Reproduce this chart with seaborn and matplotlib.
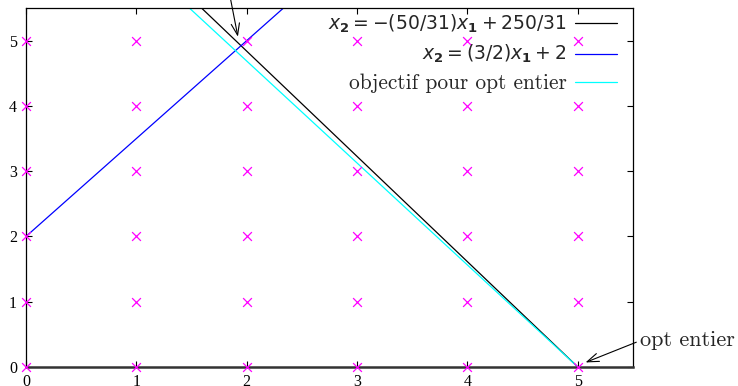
import numpy as np
import pandas as pd
import matplotlib
matplotlib.use("Agg")
import matplotlib.pyplot as plt
import seaborn as sns

# ---- data ----
grid_x1 = [0, 1, 2, 3, 4, 5]
grid_x2 = [0, 1, 2, 3, 4, 5]

line_labels = [r"$x_\mathbf{2} = -(50/31)x_\mathbf{1} + 250/31$",
               r"$x_\mathbf{2} = (3/2)x_\mathbf{1} + 2$",
               "objectif pour opt entier"]
line_slopes = [-50 / 31, 3 / 2, -50 / 32]
line_intercepts = [250 / 31, 2, 250 / 32]
line_x_ends = [[0, 5.5], [0, 5.5], [0, 5]]
line_colors = ["black", "blue", "cyan"]

x_ticks = [0, 1, 2, 3, 4, 5]
y_ticks = [0, 1, 2, 3, 4, 5]

opt_continu = (1.92, 5.06)
opt_entier = (5, 0)

# ---- style ----
sns.set_theme(style="ticks")
plt.rcParams["mathtext.fontset"] = "dejavusans"
plt.rcParams["font.family"] = ["DejaVu Sans"]

W, H = 738, 386
fig = plt.figure(figsize=(W / 100, H / 100), dpi=100)
ax = fig.add_axes([26 / W, 19 / H, 607 / W, 359 / H])

pts = pd.DataFrame([(a, b) for a in grid_x1 for b in grid_x2], columns=["x1", "x2"])
sns.scatterplot(data=pts, x="x1", y="x2", marker="x", color="#ff00ff", s=40,
                linewidth=0.9, ax=ax, legend=False, zorder=3, clip_on=False)

for lab, m, c, xe, col in zip(line_labels, line_slopes, line_intercepts, line_x_ends, line_colors):
    d = pd.DataFrame({"x1": xe, "x2": [m * v + c for v in xe]})
    sns.lineplot(data=d, x="x1", y="x2", color=col, linewidth=0.9, label=lab, ax=ax, zorder=2)

ax.set_xlim(0, 5.5)
ax.set_ylim(0, 5.5)
ax.set_xticks(x_ticks)
ax.set_yticks(y_ticks)
ax.set_xlabel("")
ax.set_ylabel("")
ax.tick_params(direction="in", top=True, right=True, length=4, width=0.8,
               colors="black", labelsize=11.5)
ax.tick_params(axis="y", pad=6.5)
ax.tick_params(axis="x", pad=5)
for t in ax.get_xticklabels() + ax.get_yticklabels():
    t.set_fontfamily("Liberation Serif")
for s in ["left", "right", "top"]:
    ax.spines[s].set_linewidth(0.9)
    ax.spines[s].set_color("black")
ax.spines["bottom"].set_linewidth(1.8)
ax.spines["bottom"].set_color("#333333")

leg = ax.legend(loc="upper right", bbox_to_anchor=(617 / W, (H - 13) / H),
                bbox_transform=fig.transFigure, frameon=False, markerfirst=False,
                fontsize=13.5, handlelength=2.25, handletextpad=0.43,
                borderpad=0, borderaxespad=0, labelspacing=0.42)
txts = leg.get_texts()
txts[2].set_fontfamily("cmr10")
txts[2].set_fontsize(15.4)
for h in leg.get_lines():
    h.set_linewidth(0.9)

arrow = dict(arrowstyle="->,head_length=0.7,head_width=0.25", color="black", lw=0.8,
             shrinkA=0, shrinkB=0)
ax.annotate("", xy=opt_continu, xytext=(1.80, 6.1), arrowprops=arrow)
ax.annotate("", xy=(opt_entier[0] + 0.07, opt_entier[1] + 0.07), xytext=(5.53, 0.38),
            arrowprops=arrow, annotation_clip=False)
ax.text(5.56, 0.41, "opt entier", fontsize=16, family="cmr10", ha="left", va="center",
        clip_on=False)

fig.savefig("out.png", dpi=100)
